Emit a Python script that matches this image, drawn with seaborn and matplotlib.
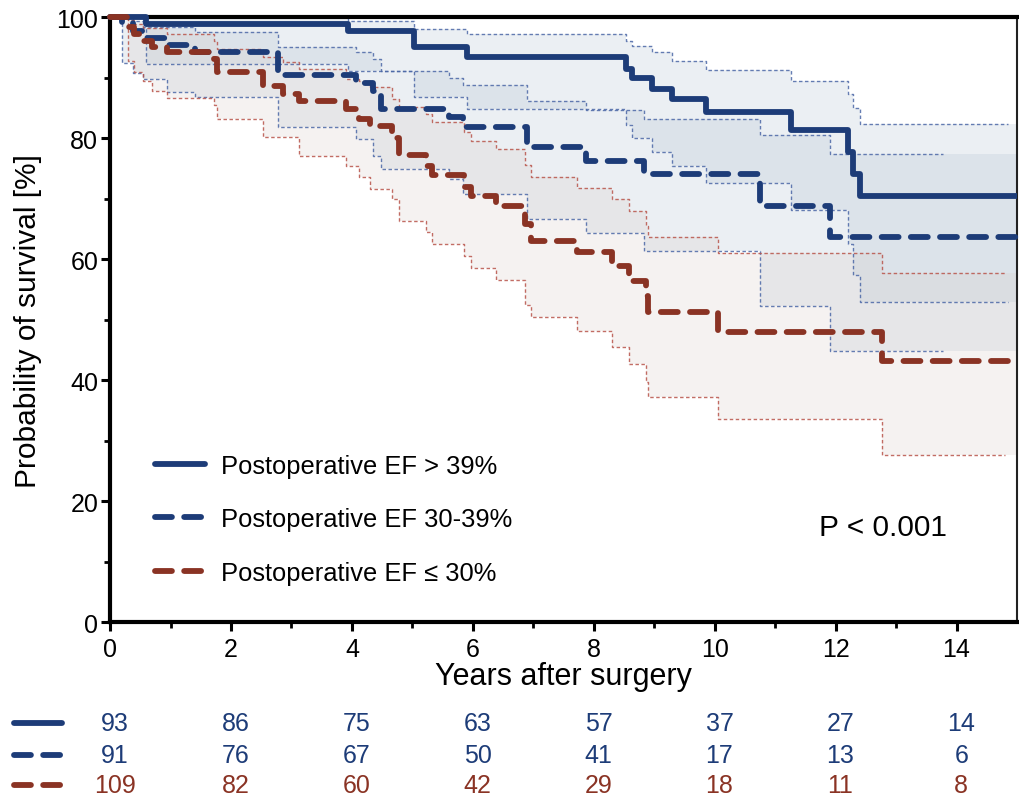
import numpy as np
import pandas as pd
import matplotlib
matplotlib.use("Agg")
import matplotlib.pyplot as plt
import seaborn as sns
from matplotlib.lines import Line2D
from matplotlib.transforms import blended_transform_factory
from matplotlib import font_manager

# ---------------- data ----------------
labels = ["Postoperative EF > 39%", "Postoperative EF 30-39%", "Postoperative EF \u2264 30%"]

a_time = [0, 0.6, 3.93, 5.03, 5.9, 8.53, 8.63, 8.96, 9.29, 9.85, 11.27, 12.2, 12.29, 12.4]
a_surv = [100, 98.9, 97.7, 95.0, 93.4, 91.4, 89.9, 88.1, 86.4, 84.3, 81.3, 77.7, 74.0, 70.4]
a_upper = [100, 100, 99.3, 98.0, 97.2, 96.1, 95.2, 94.2, 92.7, 91.2, 89.4, 87.3, 85.0, 82.3]
a_lower = [100, 92.2, 91.1, 86.8, 84.8, 82.1, 80.0, 77.7, 75.4, 72.6, 68.2, 62.5, 57.4, 52.9]
a_ci_end = 14.85

b_time = [0, 0.2, 0.38, 0.55, 0.94, 1.4, 2.78, 4.07, 4.35, 4.48, 5.6, 5.83, 6.9, 7.87, 8.83, 10.75, 11.9]
b_surv = [100, 99.2, 97.7, 96.5, 95.4, 94.2, 90.4, 89.1, 87.8, 84.8, 83.5, 81.8, 78.5, 76.2, 74.0, 68.8, 63.6]
b_upper = [100, 100, 99.3, 98.3, 98.3, 97.5, 95.0, 94.2, 93.1, 91.1, 90.0, 88.8, 86.2, 84.6, 83.1, 80.5, 77.4]
b_lower = [100, 92.5, 90.8, 89.8, 87.6, 86.8, 81.8, 79.8, 77.0, 74.9, 73.2, 70.7, 66.6, 64.3, 61.3, 52.2, 44.8]
b_ci_end = 13.77

c_time = [0, 0.3, 0.4, 0.55, 0.69, 0.94, 1.72, 1.77, 2.53, 2.86, 3.13, 3.9, 4.12, 4.3, 4.67, 4.78,
          5.23, 5.33, 5.85, 5.97, 6.38, 6.87, 6.97, 7.72, 8.3, 8.58, 8.86, 8.9, 10.06, 12.77]
c_surv = [100, 98.3, 97.2, 96.0, 95.0, 94.2, 93.1, 90.9, 88.6, 87.3, 86.1, 84.8, 83.1, 82.0, 80.0, 77.2,
          75.4, 73.9, 72.0, 70.4, 68.8, 65.8, 63.0, 61.2, 58.8, 56.4, 53.9, 51.2, 47.9, 43.1]
c_upper = [100, 99.5, 98.8, 98.2, 98.2, 97.2, 96.0, 94.7, 93.4, 92.6, 91.4, 89.8, 89.4, 88.4, 86.5, 85.1,
           84.0, 82.6, 81.0, 79.5, 78.2, 75.5, 73.6, 71.7, 69.9, 67.9, 65.5, 63.6, 61.0, 57.7]
c_lower = [100, 92.7, 91.0, 89.5, 87.8, 86.6, 85.5, 83.1, 80.2, 80.2, 77.0, 75.4, 73.6, 71.6, 69.9, 66.3,
           64.5, 62.5, 60.5, 58.5, 56.5, 52.4, 50.4, 48.1, 45.5, 42.6, 39.7, 37.2, 33.6, 27.6]
c_ci_end = 14.8

x_end = 15
risk_years = [0, 2, 4, 6, 8, 10, 12, 14]
risk_a = [93, 86, 75, 63, 57, 37, 27, 14]
risk_b = [91, 76, 67, 50, 41, 17, 13, 6]
risk_c = [109, 82, 60, 42, 29, 18, 11, 8]
p_text = "P < 0.001"

# ---------------- style ----------------
sns.set_theme(style="white")
names = {f.name for f in font_manager.fontManager.ttflist}
narrow = "Liberation Sans Narrow" if "Liberation Sans Narrow" in names else "Liberation Sans"
plt.rcParams["font.family"] = ["Liberation Sans", "DejaVu Sans"]
plt.rcParams["text.color"] = "black"
plt.rcParams["axes.labelcolor"] = "black"

NAVY = "#1d3c78"
RED = "#8a3324"
NAVY_CI = "#4b67a6"
RED_CI = "#b8544a"
FILL_BLUE = "#aebfd0"
FILL_RED = "#d8ccc8"

fig = plt.figure(figsize=(10.19, 8.03), dpi=100)
ax = fig.add_axes([0.108, 0.224, 0.890, 0.7534])

LW = 4.2
DASH = (0, (2.9, 2.1))
CI_STYLE = (0, (2.5, 1.8))

groups = [
    dict(t=a_time, s=a_surv, u=a_upper, l=a_lower, end=a_ci_end, col=NAVY, cic=NAVY_CI, fill=FILL_BLUE, fa=0.24, ls="-"),
    dict(t=b_time, s=b_surv, u=b_upper, l=b_lower, end=b_ci_end, col=NAVY, cic=NAVY_CI, fill=FILL_BLUE, fa=0.24, ls=DASH),
    dict(t=c_time, s=c_surv, u=c_upper, l=c_lower, end=c_ci_end, col=RED, cic=RED_CI, fill=FILL_RED, fa=0.25, ls=DASH),
]

# confidence bands (fill)
for g in groups:
    t = list(g["t"]) + [x_end]
    u = list(g["u"]) + [g["u"][-1]]
    l = list(g["l"]) + [g["l"][-1]]
    ax.fill_between(t, l, u, step="post", color=g["fill"], alpha=g["fa"], lw=0, zorder=1)

# confidence band borders
for g in groups:
    for bound in ("u", "l"):
        df = pd.DataFrame({"time": list(g["t"]) + [g["end"]],
                           "val": list(g[bound]) + [g[bound][-1]]})
        sns.lineplot(data=df, x="time", y="val", ax=ax, estimator=None, sort=False,
                     drawstyle="steps-post", color=g["cic"], lw=1.0, linestyle=CI_STYLE,
                     alpha=0.85, legend=False, zorder=2)

# survival curves
for g in groups:
    df = pd.DataFrame({"time": list(g["t"]) + [x_end], "surv": list(g["s"]) + [g["s"][-1]]})
    sns.lineplot(data=df, x="time", y="surv", ax=ax, estimator=None, sort=False,
                 drawstyle="steps-post", color=g["col"], lw=LW, linestyle=g["ls"],
                 legend=False, zorder=4)
    ln = ax.lines[-1]
    ln.set_dash_capstyle("round")
    ln.set_solid_capstyle("butt")
    ln.set_clip_on(False)

# axes
ax.set_xlim(0, x_end)
ax.set_ylim(0, 100)
ax.set_xticks(range(0, 15, 2))
ax.set_xticks(range(1, 15, 2), minor=True)
ax.set_yticks(range(0, 101, 20))
ax.set_yticks(range(10, 100, 20), minor=True)
ax.tick_params(axis="both", which="major", direction="out", length=6.5, width=2.2,
               labelsize=18, pad=2, color="black", labelcolor="black",
               bottom=True, left=True)
ax.tick_params(axis="both", which="minor", direction="out", length=4, width=2,
               bottom=True, left=True, color="black")
ax.tick_params(axis="x", which="major", pad=4)
for lab in ax.get_xticklabels() + ax.get_yticklabels():
    lab.set_fontfamily([narrow, "DejaVu Sans"])
for side in ("left", "bottom", "top"):
    ax.spines[side].set_linewidth(3)
    ax.spines[side].set_color("black")
ax.spines["right"].set_linewidth(1.5)
ax.spines["right"].set_color("#222222")
ax.set_xlabel("Years after surgery", fontsize=22, family=[narrow, "DejaVu Sans"], labelpad=0,
              color="black")
ax.set_ylabel("Probability of survival [%]", fontsize=21.5, family=[narrow, "DejaVu Sans"],
              color="black")
ax.yaxis.set_label_coords(-0.075, 0.5)
ax.grid(False)

# legend
handles = [Line2D([0], [0], color=g["col"], lw=LW, linestyle=g["ls"], dash_capstyle="round")
           for g in groups]
leg = ax.legend(handles, labels, loc="upper left", bbox_to_anchor=(0.0496, 0.278),
                frameon=False, fontsize=18.4, handlelength=1.95, handletextpad=0.65,
                labelspacing=1.15, borderpad=0, borderaxespad=0)
for txt in leg.get_texts():
    txt.set_color("black")

ax.text(12.78, 15.7, p_text, fontsize=21.5, ha="center", va="center", color="black")

# number-at-risk table
tr = blended_transform_factory(ax.transData, fig.transFigure)
rows = [(risk_a, NAVY, "-", 0.0984), (risk_b, NAVY, DASH, 0.0585), (risk_c, RED, DASH, 0.0212)]
for vals, col, ls, yf in rows:
    fig.add_artist(Line2D([0.014, 0.061], [yf, yf], transform=fig.transFigure, color=col,
                          lw=LW, linestyle=ls, dash_capstyle="round", solid_capstyle="round"))
    for yr, v in zip(risk_years, vals):
        ax.text(yr + 0.08, yf, str(v), transform=tr, ha="center", va="center",
                fontsize=18, color=col, family=[narrow, "DejaVu Sans"], clip_on=False)

fig.savefig("out.png", dpi=100)
